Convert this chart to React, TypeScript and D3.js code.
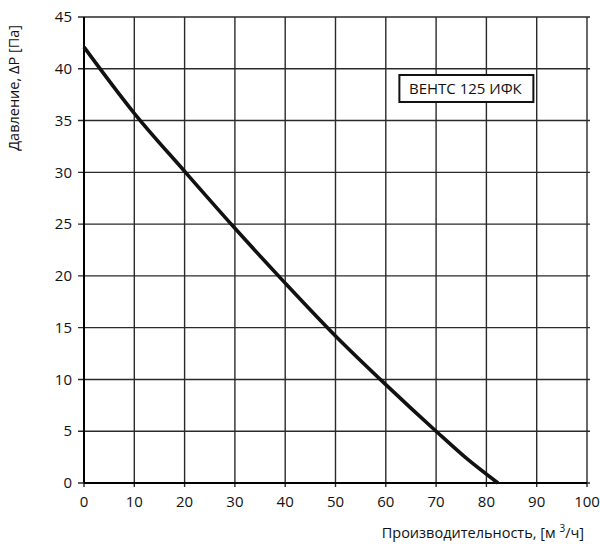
import { useMemo } from "react";
import * as d3 from "d3";

const WIDTH = 600;
const HEIGHT = 554;
const MARGIN = { top: 17, right: 13, bottom: 71, left: 84 };

// flow, m3/h
const flow = [0, 10, 20, 30, 40, 50, 60, 70, 76, 82.3];
// pressure, Pa
const pressure = [42.1, 35.7, 30.1, 24.6, 19.3, 14.2, 9.5, 5.0, 2.4, 0];

const xTicks = [0, 10, 20, 30, 40, 50, 60, 70, 80, 90, 100];
const yTicks = [0, 5, 10, 15, 20, 25, 30, 35, 40, 45];

const FONT = "'Open Sans', 'DejaVu Sans', sans-serif";

export default function App() {
    const boundsWidth = WIDTH - MARGIN.left - MARGIN.right;
    const boundsHeight = HEIGHT - MARGIN.top - MARGIN.bottom;

    const xScale = useMemo(
        () => d3.scaleLinear().domain([0, 100]).range([0, boundsWidth]),
        [boundsWidth]
    );
    const yScale = useMemo(
        () => d3.scaleLinear().domain([0, 45]).range([boundsHeight, 0]),
        [boundsHeight]
    );

    const points = flow.map((f, i) => [f, pressure[i]] as [number, number]);
    const linePath = d3
        .line<[number, number]>()
        .x((d) => xScale(d[0]))
        .y((d) => yScale(d[1]))
        .curve(d3.curveMonotoneX)(points);

    return (
        <div style={{ position: "absolute", left: 0, top: 0 }}>
            <svg width={WIDTH} height={HEIGHT} style={{ display: "block", background: "#fff" }}>
                <g transform={`translate(${MARGIN.left},${MARGIN.top})`}>
                    {/* horizontal grid, stretching a little past the frame */}
                    {yTicks.map((t) => (
                        <line
                            key={"h" + t}
                            x1={-6}
                            x2={boundsWidth + 3}
                            y1={yScale(t)}
                            y2={yScale(t)}
                            stroke="#2a2a2a"
                            strokeWidth={1.4}
                        />
                    ))}
                    {/* vertical grid */}
                    {xTicks.map((t) => (
                        <line
                            key={"v" + t}
                            x1={xScale(t)}
                            x2={xScale(t)}
                            y1={0}
                            y2={boundsHeight + 4}
                            stroke="#2a2a2a"
                            strokeWidth={1.4}
                        />
                    ))}
                    {/* axes */}
                    <line x1={0} x2={0} y1={0} y2={boundsHeight} stroke="#000" strokeWidth={2} />
                    <line
                        x1={0}
                        x2={boundsWidth}
                        y1={boundsHeight}
                        y2={boundsHeight}
                        stroke="#000"
                        strokeWidth={2}
                    />

                    {/* y tick labels */}
                    {yTicks.map((t) => (
                        <text
                            key={"yl" + t}
                            x={-12}
                            y={yScale(t)}
                            dy="0.35em"
                            textAnchor="end"
                            fontFamily={FONT}
                            fontSize={15}
                            fill="#111"
                        >
                            {t}
                        </text>
                    ))}
                    {/* x tick labels */}
                    {xTicks.map((t) => (
                        <text
                            key={"xl" + t}
                            x={xScale(t)}
                            y={boundsHeight + 24}
                            textAnchor="middle"
                            fontFamily={FONT}
                            fontSize={15}
                            fill="#111"
                        >
                            {t}
                        </text>
                    ))}

                    {/* curve */}
                    <path d={linePath || ""} fill="none" stroke="#111" strokeWidth={3.6} />

                    {/* label box */}
                    <rect
                        x={xScale(62.7)}
                        y={yScale(39.4)}
                        width={134}
                        height={27}
                        fill="#fff"
                        stroke="#111"
                        strokeWidth={2}
                    />
                    <text
                        x={xScale(62.7) + 66}
                        y={yScale(39.4) + 19}
                        textAnchor="middle"
                        fontFamily={FONT}
                        fontSize={15}
                        fill="#111"
                    >
                        ВЕНТС 125 ИФК
                    </text>
                </g>

                {/* axis titles */}
                <text
                    x={584}
                    y={538}
                    textAnchor="end"
                    fontFamily={FONT}
                    fontSize={14.5}
                    fill="#111"
                >
                    Производительность, [м <tspan dy={-6} fontSize={10}>3</tspan>
                    <tspan dy={6}>/ч]</tspan>
                </text>
                <text
                    transform="translate(19,25) rotate(-90)"
                    textAnchor="end"
                    fontFamily={FONT}
                    fontSize={14.5}
                    fill="#111"
                >
                    Давление, ΔP [Па]
                </text>
            </svg>
        </div>
    );
}
